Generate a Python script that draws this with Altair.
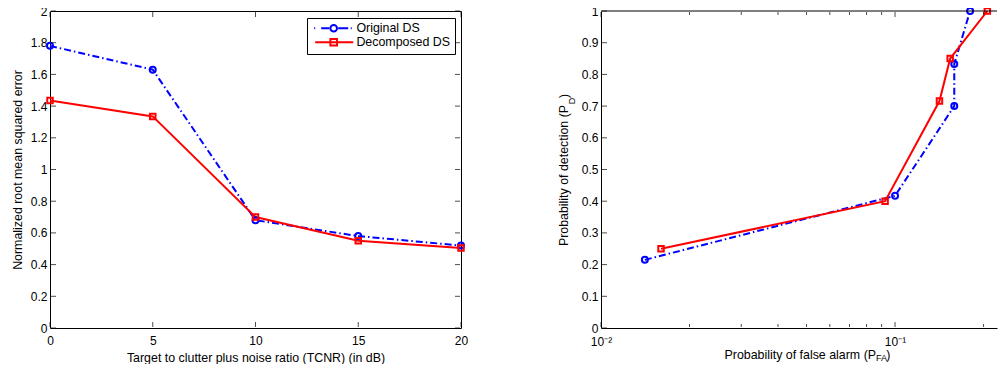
import altair as alt
import pandas as pd

# ---------------- data ----------------
tcnr_db = [0, 5, 10, 15, 20]
nrmse_original = [1.78, 1.63, 0.68, 0.58, 0.52]
nrmse_decomposed = [1.435, 1.335, 0.70, 0.55, 0.505]

pfa_original = [0.0141, 0.100, 0.159, 0.159, 0.180]
pd_original = [0.215, 0.417, 0.700, 0.833, 1.000]
pfa_decomposed = [0.0160, 0.0925, 0.1416, 0.154, 0.206]
pd_decomposed = [0.250, 0.400, 0.716, 0.850, 1.000]

series_names = ["Original DS", "Decomposed DS"]
series_colors = ["#0000ff", "#ff0000"]

left_x_ticks = [0, 5, 10, 15, 20]
left_y_ticks = [0, 0.2, 0.4, 0.6, 0.8, 1.0, 1.2, 1.4, 1.6, 1.8, 2.0]
right_y_ticks = [0, 0.1, 0.2, 0.3, 0.4, 0.5, 0.6, 0.7, 0.8, 0.9, 1.0]
right_x_major = [0.01, 0.1]
right_x_minor = [0.02, 0.03, 0.04, 0.05, 0.06, 0.07, 0.08, 0.09, 0.2]

FONT = "Liberation Sans"
NB = "\u00a0"

# legend symbols: line sample + marker (custom SVG paths, unit = sqrt(size)/2 px)
legend_paths = [
    "M-0.6,0L-0.4,0M0.8,0L2.4,0M3.96,0A0.66,0.66,0,1,1,2.64,0A0.66,0.66,0,1,1,3.96,0M4.2,0L6.2,0M6.7,0L6.9,0",
    "M-0.4,0L7.2,0M2.64,-0.66L3.96,-0.66L3.96,0.66L2.64,0.66Z",
]


def long_df(xa, ya, xb, yb):
    rows = []
    for name, xs, ys in [(series_names[0], xa, ya), (series_names[1], xb, yb)]:
        for i, (x, y) in enumerate(zip(xs, ys)):
            rows.append({"x": x, "y": y, "series": name, "order": i})
    return pd.DataFrame(rows)


def tick_layers(values, channel, scale, axis, w, h, sides, size):
    df = pd.DataFrame({channel: values})
    out = []
    for side in sides:
        m = alt.Chart(df).mark_tick(size=size, thickness=1, color="black")
        if channel == "x":
            pos = 1 + size / 2 if side == "top" else h - 1 - size / 2
            out.append(m.encode(x=alt.X("x:Q", scale=scale, axis=axis), y=alt.value(pos)))
        else:
            pos = 1 + size / 2 if side == "left" else w - 1 - size / 2
            out.append(m.encode(y=alt.Y("y:Q", scale=scale, axis=axis), x=alt.value(pos)))
    return out


def legend_layer(df, legend_xy, xenc, yenc):
    return alt.Chart(df).transform_filter("false").mark_point(
        filled=False, strokeWidth=2, size=100).encode(
        x=xenc, y=yenc,
        color=alt.Color("series:N", scale=alt.Scale(domain=series_names, range=series_colors),
                        legend=alt.Legend(title=None, orient="none", legendX=legend_xy[0],
                                          legendY=legend_xy[1], strokeColor="black",
                                          fillColor="white", padding=4, symbolSize=100,
                                          symbolStrokeWidth=2, symbolOpacity=1,
                                          labelFont=FONT, labelFontSize=12.4, labelColor="black",
                                          labelOffset=33, rowPadding=-2)),
        shape=alt.Shape("series:N", scale=alt.Scale(domain=series_names, range=legend_paths)),
    )


def panel(df, xenc, yenc, legend_xy, w, h, extra):
    base = alt.Chart(df)
    orig = base.transform_filter(alt.datum.series == series_names[0])
    deco = base.transform_filter(alt.datum.series == series_names[1])
    layers = [
        orig.mark_line(color=series_colors[0], strokeWidth=2, strokeDash=[7, 3, 1.5, 3]).encode(
            x=xenc, y=yenc, order="order:Q"),
        deco.mark_line(color=series_colors[1], strokeWidth=2).encode(x=xenc, y=yenc, order="order:Q"),
        orig.mark_point(shape="circle", size=36, filled=False, strokeWidth=2,
                        color=series_colors[0], opacity=1).encode(x=xenc, y=yenc),
        deco.mark_point(shape="square", size=30, filled=False, strokeWidth=2,
                        color=series_colors[1], opacity=1).encode(x=xenc, y=yenc),
    ]
    layers += extra
    layers.append(legend_layer(df, legend_xy, xenc, yenc))
    return alt.layer(*layers).properties(width=w, height=h)


W_L, W_R, H = 411, 396, 317

# ---------------- left panel ----------------
lx = alt.Scale(domain=[0, 20], nice=False, zero=False)
ly = alt.Scale(domain=[0, 2], nice=False, zero=False)
lxa = alt.Axis(values=left_x_ticks, format="~g", ticks=False, tickSize=0, domain=False,
               labelFlush=False, labelPadding=7,
               title="Target to clutter plus noise ratio (TCNR) (in dB)", titlePadding=5)
lya = alt.Axis(values=left_y_ticks, format="~g", ticks=False, tickSize=0, domain=False,
               labelFlush=False, labelPadding=3,
               title="Normalized root mean squared error", titlePadding=6)
df_left = long_df(tcnr_db, nrmse_original, tcnr_db, nrmse_decomposed)
left = panel(
    df_left, alt.X("x:Q", scale=lx, axis=lxa), alt.Y("y:Q", scale=ly, axis=lya),
    (257, 7), W_L, H,
    tick_layers(left_x_ticks, "x", lx, lxa, W_L, H, ["top", "bottom"], 5)
    + tick_layers(left_y_ticks, "y", ly, lya, W_L, H, ["left", "right"], 5),
).properties(view=alt.ViewBackground(stroke="black", strokeWidth=1))

# ---------------- right panel ----------------
rx = alt.Scale(type="log", domain=[0.01, 0.2222], nice=False)
ry = alt.Scale(domain=[0, 1], nice=False, zero=False)
rxa = alt.Axis(values=right_x_major, ticks=False, tickSize=0, domain=True, labelFlush=False,
               labelPadding=8,
               labelExpr="abs(datum.value-0.01)<1e-9 ? '10⁻²' : '10⁻¹'",
               title="Probability of false alarm (P" + NB * 3 + ")", titlePadding=1, titleX=206)
rya = alt.Axis(values=right_y_ticks, format="~g", ticks=False, tickSize=0, domain=True,
               labelFlush=False, labelPadding=3,
               title="Probability of detection (P" + NB * 2 + ")", titlePadding=11)
df_right = long_df(pfa_original, pd_original, pfa_decomposed, pd_decomposed)
one = alt.Data(values=[{"k": 1}])
sub_d = alt.Chart(one).mark_text(text="D", font=FONT, fontSize=9, angle=270, color="black").encode(
    x=alt.value(-29), y=alt.value(H / 2 - 68.4))
sub_fa = alt.Chart(one).mark_text(text="FA", font=FONT, fontSize=9, color="black").encode(
    x=alt.value(280.5), y=alt.value(H + 30))
top_border = alt.Chart(one).mark_rule(color="black", strokeWidth=1).encode(
    x=alt.value(0), x2=alt.value(W_R), y=alt.value(0))
right = panel(
    df_right, alt.X("x:Q", scale=rx, axis=rxa), alt.Y("y:Q", scale=ry, axis=rya),
    (6, 7), W_R, H,
    [top_border, sub_d, sub_fa]
    + tick_layers(right_x_major, "x", rx, rxa, W_R, H, ["top", "bottom"], 5)
    + tick_layers(right_x_minor, "x", rx, rxa, W_R, H, ["top", "bottom"], 3)
    + tick_layers(right_y_ticks, "y", ry, rya, W_R, H, ["left"], 5),
).properties(view=alt.ViewBackground(stroke=None))

chart = alt.hconcat(left, right, spacing=88).properties(
    padding={"left": 2, "top": -4, "right": 0, "bottom": 0},
    background="white",
).configure_axis(
    grid=False, labelFont=FONT, labelFontSize=12, labelColor="black",
    titleFont=FONT, titleFontSize=12.4, titleFontWeight="normal", titleColor="black",
    domainColor="black", tickColor="black", domainWidth=1,
)

chart.save("out.html", embed_options={"renderer": "svg", "actions": False})
